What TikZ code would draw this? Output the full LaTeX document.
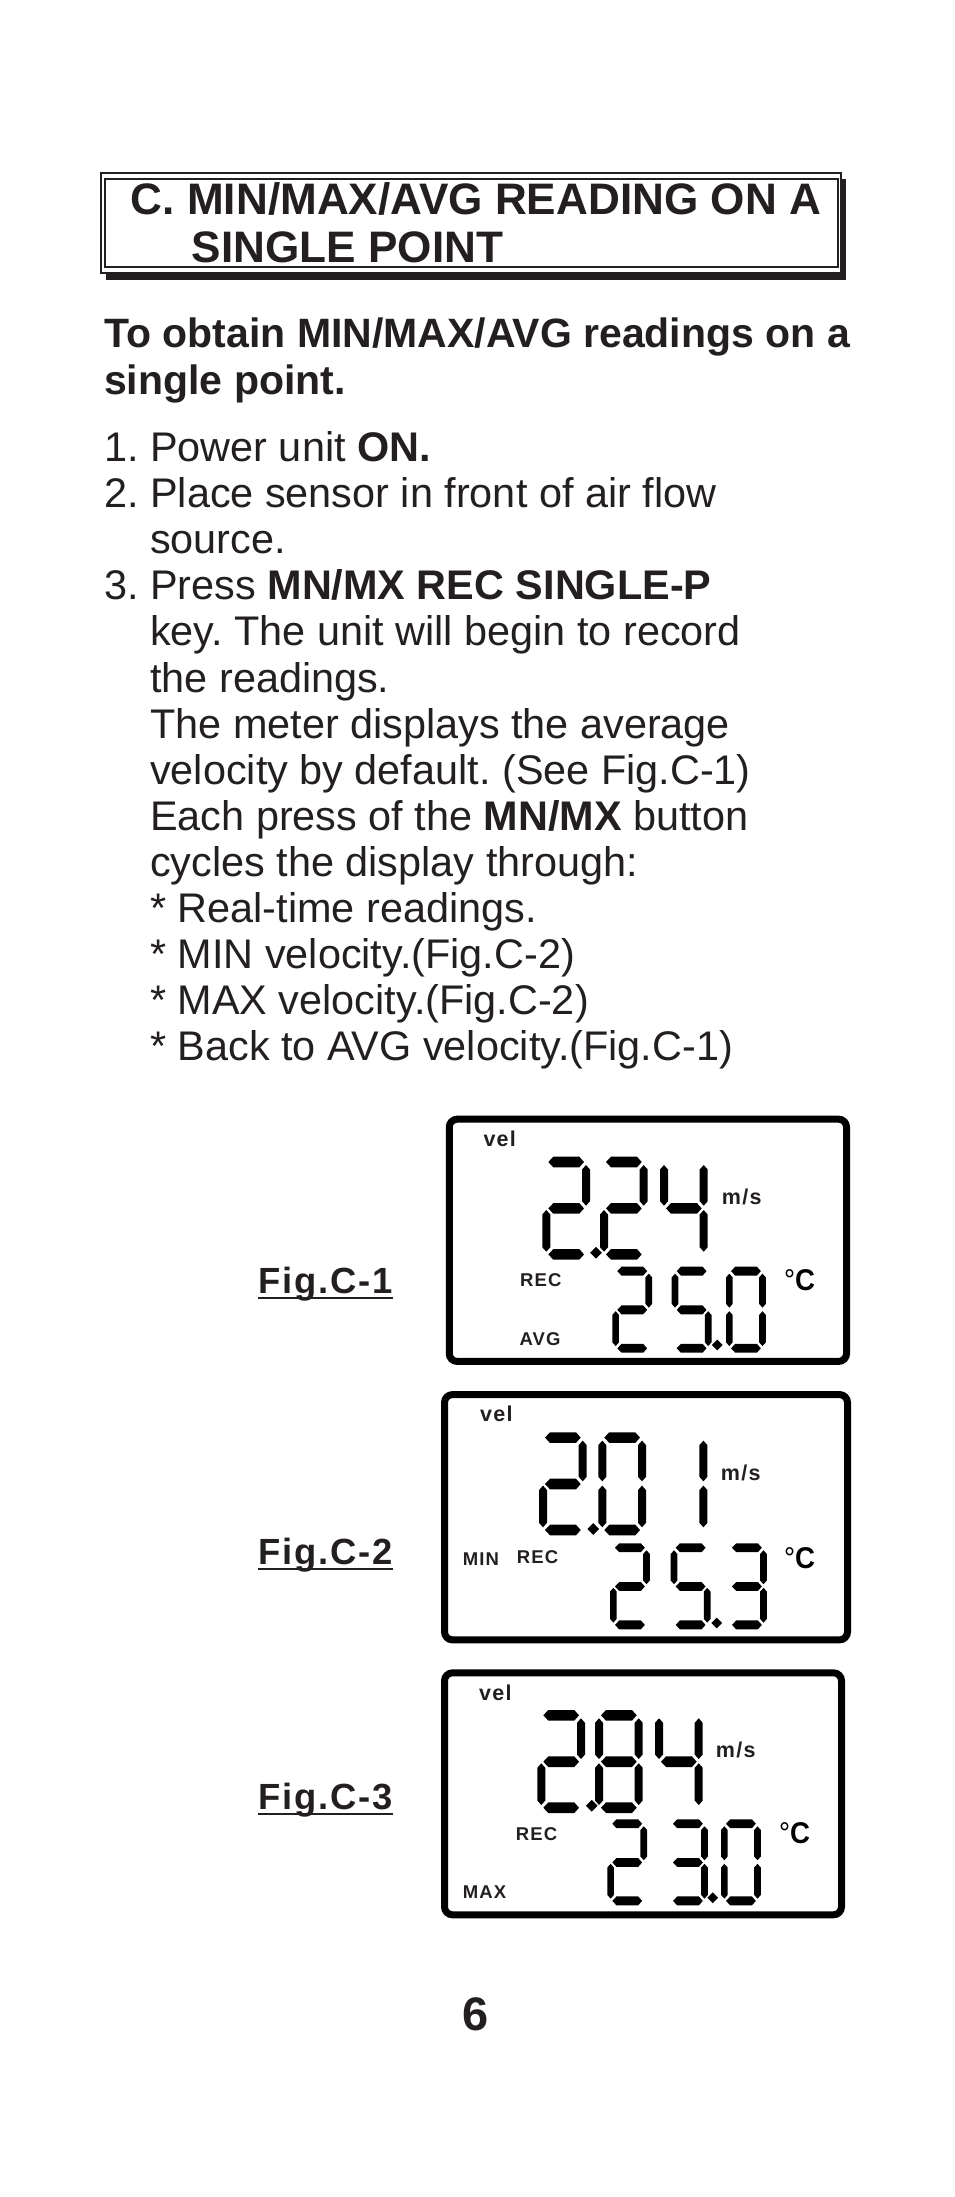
\documentclass[tikz,border=0pt]{standalone}
\usepackage{fontspec}
\usetikzlibrary{shapes.geometric}
\setmainfont{Liberation Sans}
\newfontfamily\lcdfont[LetterSpace=6]{Liberation Sans}
\newfontfamily\figfont[LetterSpace=5]{Liberation Sans}
\definecolor{inkblack}{HTML}{231F20}
\frenchspacing

% seven segments of one digit, drawn at 48 x 103
\newcommand{\hseg}[1]{\fill (6,#1) -- (11,#1-5.3) -- (37,#1-5.3) -- (41.7,#1) -- (37,#1+5.3) -- (11,#1+5.3) -- cycle;}
\newcommand{\vseg}[3]{\fill (#1,#2) -- (#1+4,#2+4.5) -- (#1+4,#3-4.5) -- (#1,#3) -- (#1-4,#3-4.5) -- (#1-4,#2+4.5) -- cycle;}
\newcommand{\sega}{\hseg{5.3}}
\newcommand{\segb}{\vseg{43.7}{8.3}{49}}
\newcommand{\segc}{\vseg{43.7}{53.3}{95}}
\newcommand{\segd}{\hseg{97.7}}
\newcommand{\sege}{\vseg{4}{53.3}{95}}
\newcommand{\segf}{\vseg{4}{8.3}{49}}
\newcommand{\segg}{\hseg{51.7}}
\expandafter\def\csname dig0\endcsname{a,b,c,d,e,f}
\expandafter\def\csname dig1\endcsname{b,c}
\expandafter\def\csname dig2\endcsname{a,b,g,e,d}
\expandafter\def\csname dig3\endcsname{a,b,g,c,d}
\expandafter\def\csname dig4\endcsname{f,g,b,c}
\expandafter\def\csname dig5\endcsname{a,f,g,c,d}
\expandafter\def\csname dig8\endcsname{a,b,c,d,e,f,g}
% \lcddigit{scale}{x}{y}{digit}
\newcommand{\lcddigit}[4]{%
  \begin{scope}[shift={(#2,#3)},scale=#1]
    \edef\seglist{\csname dig#4\endcsname}
    \foreach \s in \seglist {\csname seg\s\endcsname}
  \end{scope}}

\tikzset{
  paneltext/.style={anchor=base west,inner sep=0pt,text=inkblack},
  bodytext/.style={paneltext,font=\fontsize{41.4}{46}\selectfont},
  headtext/.style={paneltext,font=\fontsize{41}{46}\selectfont\bfseries},
  titletext/.style={paneltext,font=\fontsize{44.1}{48}\selectfont\bfseries},
  figlabel/.style={anchor=base west,inner ysep=0pt,inner xsep=0pt,text depth=4.4pt,text=inkblack,font=\fontsize{36.4}{40}\selectfont\figfont\bfseries},
  lcdbox/.style={draw=black,rounded corners=8pt,line width=7pt},
  lcdsmall/.style={paneltext,font=\fontsize{18.5}{20}\selectfont\lcdfont\bfseries},
  lcdunit/.style={paneltext,font=\fontsize{21.5}{22}\selectfont\lcdfont\bfseries},
  lcdtemp/.style={anchor=base west,inner sep=0pt,text=black,xscale=.92,font=\fontsize{30}{32}\selectfont},
  dotmark/.style={diamond,fill=black,inner sep=0pt},
}

\begin{document}
\begin{tikzpicture}[x=1pt,y=-1pt]
\useasboundingbox (0,0) rectangle (954,2197);
% title box
\node[fill=inkblack,minimum width=740pt,minimum height=101pt,inner sep=0pt] (shadow) at (476,229.5) {};
\node[draw=inkblack,fill=white,line width=1.8pt,minimum width=740pt,minimum height=100pt,inner sep=0pt] (outerbox) at (471,222.6) {};
\node[draw=inkblack,line width=2.2pt,minimum width=733pt,minimum height=87.4pt,inner sep=0pt] (innerbox) at (471.5,223) {};
\node[titletext] (title1) at (130.7,214.2) {C. MIN/MAX/AVG READING ON A};
\node[titletext] (title2) at (191.7,262.5) {SINGLE POINT};
% heading
\node[headtext] (head1) at (104,347.8) {To obtain MIN/MAX/AVG readings on a};
\node[headtext] (head2) at (104,394.1) {single point.};
% numbered steps
\node[bodytext] (num1) at (104.5,461.5) {1.};
\node[bodytext] (num2) at (104.5,507.6) {2.};
\node[bodytext] (num3) at (104.5,599.8) {3.};
\foreach \txt [count=\i] in {%
  {Power unit \textbf{ON.}},
  {Place sensor in front of air flow},
  {source.},
  {Press \textbf{MN/MX REC SINGLE-P}},
  {key. The unit will begin to record},
  {the readings.},
  {The meter displays the average},
  {velocity by default. (See Fig.C-1)},
  {Each press of the \textbf{MN/MX} button},
  {cycles the display through:},
  {* Real-time readings.},
  {* MIN velocity.(Fig.C-2)},
  {* MAX velocity.(Fig.C-2)},
  {* Back to AVG velocity.(Fig.C-1)}}
  \node[bodytext] (line\i) at (150,415.4+46.1*\i) {\txt};
% figure labels
\node[figlabel] (fig1) at (258,1293.3) {Fig.C-1};
\node[figlabel] (fig2) at (258,1564.3) {Fig.C-2};
\node[figlabel] (fig3) at (258,1809.3) {Fig.C-3};
\draw[inkblack,line width=2.5pt] (fig1.south west) -- (fig1.south east);
\draw[inkblack,line width=2.5pt] (fig2.south west) -- (fig2.south east);
\draw[inkblack,line width=2.5pt] (fig3.south west) -- (fig3.south east);
% panel 1
\node[lcdbox,minimum width=397.3pt,minimum height=242.3pt] (panel1) at (647.9,1240.3) {};
\node[lcdunit] (vel1) at (483.3,1146.7) {vel};
\node[lcdunit] (unit1) at (721.7,1204.3) {m/s};
\node[lcdsmall] (rec1) at (520,1286.7) {REC};
\node[lcdsmall] (avg1) at (519.3,1345) {AVG};
\node[lcdtemp] (temp1) at (784,1290.7) {°\textbf{C}};
\lcddigit{1}{542.3}{1156.7}{2}
\lcddigit{1}{600}{1156.7}{2}
\lcddigit{1}{660}{1156.7}{4}
\lcddigit{.835}{612.3}{1266.7}{2}
\lcddigit{.835}{671.7}{1266.7}{5}
\lcddigit{.835}{726}{1266.7}{0}
\node[dotmark,minimum size=12pt] (dot1a) at (596,1252.7) {};
\node[dotmark,minimum size=11pt] (dot1b) at (717.3,1345) {};
% panel 2
\node[lcdbox,minimum width=403pt,minimum height=245.3pt] (panel2) at (646,1517.2) {};
\node[lcdunit] (vel2) at (480,1421.7) {vel};
\node[lcdunit] (unit2) at (720.7,1480) {m/s};
\node[lcdsmall] (min2) at (462.7,1565) {MIN};
\node[lcdsmall] (rec2) at (516.7,1563.7) {REC};
\node[lcdtemp] (temp2) at (784,1568.3) {°\textbf{C}};
\lcddigit{1}{539}{1432.3}{2}
\lcddigit{1}{598.3}{1432.3}{0}
\lcddigit{1}{659.7}{1432.3}{1}
\lcddigit{.835}{610}{1543.3}{2}
\lcddigit{.835}{670.7}{1543.3}{5}
\lcddigit{.835}{727}{1543.3}{3}
\node[dotmark,minimum size=12pt] (dot2a) at (593.3,1529) {};
\node[dotmark,minimum size=11pt] (dot2b) at (716.7,1623) {};
% panel 3
\node[lcdbox,minimum width=397pt,minimum height=242pt] (panel3) at (643,1793.8) {};
\node[lcdunit] (vel3) at (479,1700) {vel};
\node[lcdunit] (unit3) at (715.7,1757.3) {m/s};
\node[lcdsmall] (rec3) at (515.7,1840) {REC};
\node[lcdsmall] (max3) at (462.7,1898.3) {MAX};
\node[lcdtemp] (temp3) at (779,1843.3) {°\textbf{C}};
\lcddigit{1}{537.3}{1710}{2}
\lcddigit{1}{595}{1710}{8}
\lcddigit{1}{655}{1710}{4}
\lcddigit{.835}{607.3}{1819.3}{2}
\lcddigit{.835}{668}{1819.3}{3}
\lcddigit{.835}{721}{1819.3}{0}
\node[dotmark,minimum size=12pt] (dot3a) at (591.7,1805.7) {};
\node[dotmark,minimum size=11pt] (dot3b) at (712.7,1897.7) {};
% page number
\node[paneltext,anchor=base,font=\fontsize{47}{50}\selectfont\bfseries] (pagenum) at (475.5,2030.5) {6};
\end{tikzpicture}
\end{document}
